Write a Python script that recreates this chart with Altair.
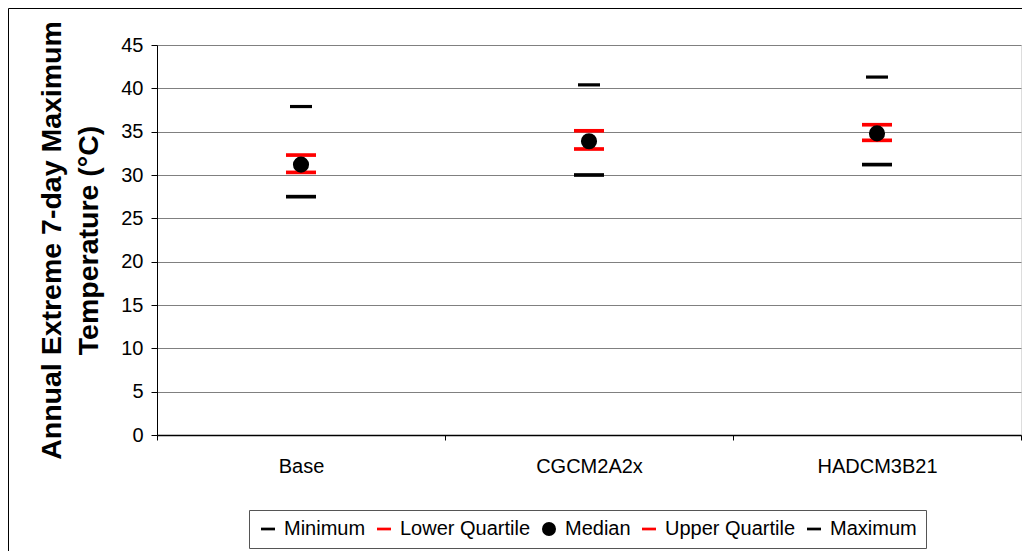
import altair as alt
import pandas as pd

models = ["Base", "CGCM2A2x", "HADCM3B21"]
minimum = [27.5, 30.0, 31.2]
lower_q = [30.3, 33.0, 34.0]
median = [31.2, 33.9, 34.8]
upper_q = [32.3, 35.1, 35.8]
maximum = [37.9, 40.4, 41.3]

stats = ["Minimum", "Lower Quartile", "Median", "Upper Quartile", "Maximum"]
stat_colors = ["#000000", "#ff0000", "#000000", "#ff0000", "#000000"]
y_ticks = [0, 5, 10, 15, 20, 25, 30, 35, 40, 45]

rows = []
for i, m in enumerate(models):
    for s, vals in zip(stats, [minimum, lower_q, median, upper_q, maximum]):
        rows.append({"model": m, "pos": i + 0.5, "stat": s, "value": vals[i]})
df = pd.DataFrame(rows)

dash = "M-1,-0.06L1,-0.06L1,0.06L-1,0.06Z"
shapes = [dash, dash, "circle", dash, dash]

label_expr = " : ".join(
    [f"datum.value == {i + 0.5} ? '{m}'" for i, m in enumerate(models)]
) + " : ''"

W, H = 864, 390
PL, PT = 149, 37

x_enc = alt.X(
    "pos:Q",
    scale=alt.Scale(domain=[0, len(models)], nice=False, zero=False),
    axis=alt.Axis(
        values=[0, 0.5, 1, 1.5, 2, 2.5, 3],
        labelExpr=label_expr,
        title=None,
        grid=False,
        domainColor="#000000",
        domainWidth=1.5,
        tickColor="#000000",
        tickSize=5,
        tickOpacity={"condition": {"test": "datum.value % 1 === 0", "value": 1}, "value": 0},
        labelFontSize=20,
        labelFont="Liberation Sans",
        labelColor="#000000",
        labelPadding=16,
        labelOverlap=False,
        labelFlush=False,
    ),
)

y_enc = alt.Y(
    "value:Q",
    scale=alt.Scale(domain=[0, 45], nice=False, zero=True),
    axis=alt.Axis(
        values=y_ticks,
        title=["Annual Extreme 7-day Maximum", "Temperature (°C)"],
        titleFont="Liberation Sans",
        titleFontSize=28.5,
        titleFontWeight="bold",
        titleColor="#000000",
        titleLineHeight=37,
        titlePadding=17,
        grid=True,
        gridColor="#808080",
        gridWidth=1,
        domainColor="#000000",
        tickColor="#000000",
        tickSize=6,
        labelFontSize=20,
        labelFont="Liberation Sans",
        labelColor="#000000",
        labelPadding=8,
    ),
)

color_enc = alt.Color(
    "stat:N",
    scale=alt.Scale(domain=stats, range=stat_colors),
    legend=alt.Legend(
        title=None,
        orient="none",
        legendX=92,
        legendY=465,
        direction="horizontal",
        columns=5,
        labelFontSize=20,
        labelFont="Liberation Sans",
        labelColor="#000000",
        labelLimit=400,
        labelOffset=6,
        columnPadding=8,
        symbolSize=144,
        symbolStrokeWidth=2,
        symbolOpacity=1,
        strokeColor="#555555",
        fillColor="#ffffff",
        padding=9,
    ),
)
stroke_enc = alt.Stroke("stat:N", scale=alt.Scale(domain=stats, range=stat_colors))
shape_enc = alt.Shape("stat:N", scale=alt.Scale(domain=stats, range=shapes))

base = alt.Chart(df).encode(x=x_enc, y=y_enc, color=color_enc, stroke=stroke_enc, shape=shape_enc)

quart = base.mark_point(filled=True, opacity=1, strokeWidth=2, size=784).transform_filter(
    alt.FieldOneOfPredicate(field="stat", oneOf=["Minimum", "Lower Quartile", "Upper Quartile"])
)
maxl = base.mark_point(filled=True, opacity=1, strokeWidth=2, size=400).transform_filter(
    alt.FieldEqualPredicate(field="stat", equal="Maximum")
)
medl = base.mark_point(filled=True, opacity=1, strokeWidth=2, size=200).transform_filter(
    alt.FieldEqualPredicate(field="stat", equal="Median")
)

frame = alt.Chart(alt.Data(values=[{"a": 1}])).mark_rect(
    fillOpacity=0, stroke="#000000", strokeWidth=1
).encode(
    x=alt.value(-PL + 0.5),
    x2=alt.value(W + 40),
    y=alt.value(-PT + 0.5),
    y2=alt.value(H + 300),
)

chart = alt.layer(frame, quart, maxl, medl).properties(
    width=W,
    height=H,
    autosize=alt.AutoSizeParams(type="none"),
    padding={"left": PL, "top": PT, "right": 1, "bottom": 116},
).configure_view(stroke="#808080", strokeWidth=1).configure(background="#ffffff")

chart.save("out.html", embed_options={"renderer": "svg", "actions": False})
